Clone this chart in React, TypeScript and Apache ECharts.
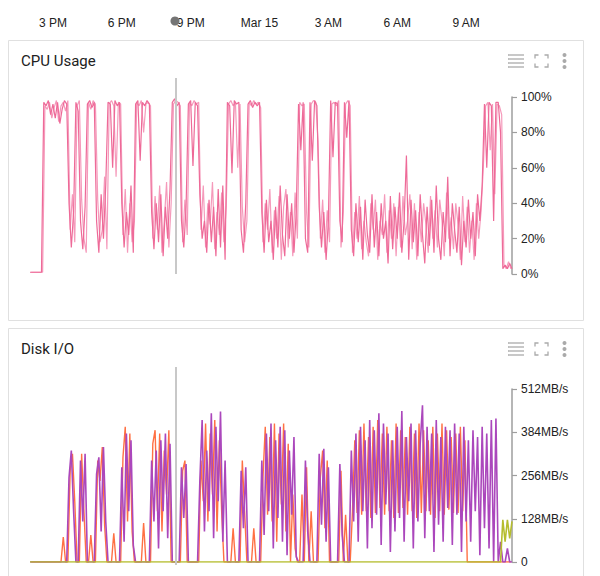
import { useEffect, useRef } from "react";
import * as echarts from "echarts";

// Time axis runs in hours since midnight, Mar 14 (14 = 2 PM, 35 = 11 AM next day)
const HOUR_START = 14;
const HOUR_END = 35;
const STEP = 0.1;
const CURSOR_HOUR = 20.36;

const timeTickHours = [15, 18, 21, 24, 27, 30, 33];
const timeTickLabels = ["3 PM", "6 PM", "9 PM", "Mar 15", "3 AM", "6 AM", "9 AM"];

// CPU utilisation (%), one sample every 0.1 h starting at 14.0
const cpuA = [
  1, 1, 1, 1, 1, 1,
  97, 95, 98, 90, 96, 88, 97, 85, 93, 98, 96,
  40, 15, 35,
  97, 92,
  30, 14, 38,
  96, 98, 94, 97,
  30, 12, 45, 20, 50,
  97, 96, 60, 98, 95, 97,
  40, 15, 35, 22, 50, 12,
  96, 98, 64, 97, 95, 98, 96,
  35, 14, 40, 18, 45, 10, 38, 20, 48,
  97, 99, 95, 97,
  30, 15, 38,
  96, 98, 61, 97, 95,
  45, 20, 30, 12, 42, 18, 38, 10, 48, 15, 50, 8,
  97, 95, 57, 98, 96, 97,
  25, 12, 40,
  96, 98, 94, 97, 95, 97,
  35, 12, 42, 18, 30, 8, 38, 15, 50, 22, 10, 45, 20, 40, 12, 35,
  96, 70, 97,
  20, 12,
  97, 64, 98, 95,
  38, 15, 35, 8, 30,
  98, 66, 97, 96,
  30, 18,
  97, 77, 98,
  25, 10, 40, 18, 38, 8, 42, 22, 12, 45,
  15, 35, 10, 40, 20, 30, 6, 44, 14, 38,
  20, 46, 12, 30, 67, 8, 42, 18, 36, 10,
  45, 22, 6, 38, 16, 42, 12, 50, 20, 8,
  35, 18, 55, 10, 40, 25, 12, 38, 5, 30,
  15, 42, 20, 35, 10, 45, 30, 50,
  96, 60, 97, 95, 30, 97, 97, 80,
  3, 5, 3, 6, 3,
];

// Second instance, sampled half a step later (starts at 14.05)
const cpuB = [
  1, 1, 1, 1, 1, 1,
  95, 93, 97, 88, 94, 98, 86, 95, 97, 92, 98,
  25, 45, 18,
  95, 98,
  42, 20, 12,
  97, 93, 98, 96,
  42, 18, 25, 55, 14,
  96, 98, 95, 55, 97, 96,
  22, 48, 12, 40, 18, 30,
  97, 95, 98, 80, 96, 97, 95,
  20, 44, 25, 50, 12, 30, 52, 15, 40,
  96, 98, 97, 95,
  18, 42, 22,
  97, 95, 98, 96, 97,
  25, 50, 15, 40, 28, 52, 14, 35, 22, 46, 18, 38,
  96, 98, 95, 97, 60, 96,
  38, 18, 30,
  97, 95, 98, 96, 97, 94,
  18, 40, 25, 48, 12, 36, 20, 44, 8, 38, 48, 15, 35, 10, 46, 20,
  97, 95, 96,
  35, 15,
  96, 98, 97, 75,
  20, 42, 12, 36, 18,
  96, 97, 95, 98,
  15, 35,
  96, 98, 95,
  12, 35, 20, 44, 14, 30, 18, 10, 40, 25,
  42, 8, 30, 22, 45, 12, 36, 20, 40, 10,
  38, 15, 44, 22, 30, 45, 14, 40, 8, 35,
  18, 40, 28, 12, 44, 20, 36, 15, 42, 30,
  10, 46, 20, 32, 14, 40, 28, 8, 44, 18,
  38, 12, 30, 8, 40, 20, 35, 60,
  95, 97, 70, 96, 45, 96, 95, 90,
  5, 3, 7, 3,
];

// Disk throughput (MB/s), read side, starts at 14.0
const diskPurple = [
  0, 0, 0, 0, 0, 0, 0, 0, 0, 0, 0, 0, 0, 0, 0, 0, 0,
  250, 330, 150,
  0, 0,
  300, 120, 320,
  0, 0, 0, 0,
  260, 310, 90, 340, 120,
  0, 0, 0, 0, 0, 0,
  280, 60, 380, 150, 360, 50,
  0, 0, 0, 0, 0, 0, 0,
  300, 120, 330, 40, 360, 150, 380, 70, 350,
  0, 0, 0, 0,
  280, 130, 290,
  0, 0, 0, 0, 0,
  240, 420, 90, 330, 150, 440, 70, 400, 180, 445, 60, 300,
  0, 0, 0, 0, 0, 0,
  270, 100, 280,
  0, 0, 0, 0, 0, 0,
  300, 80, 380, 150, 410, 40, 360, 130, 400, 60, 390, 20, 330, 140, 370, 15,
  0, 0, 0,
  300, 90,
  0, 0, 0, 0,
  320, 110, 335, 60, 280,
  0, 0, 0, 0,
  290, 80,
  0, 0, 0,
  330, 120, 380, 60, 400, 150, 360, 40, 420, 100,
  390, 140, 440, 50, 410, 170, 380, 30, 360, 90,
  400, 130, 447, 60, 370, 180, 410, 40, 390, 120,
  350, 464, 70, 400, 150, 380, 30, 420, 110, 370,
  60, 400, 160, 390, 50, 410, 140, 380, 30, 400,
  120, 360, 60, 390, 150, 370, 20, 400, 100, 380,
  40, 420, 0, 425, 0, 60, 0, 0, 40, 0, 0,
];

// Disk throughput (MB/s), write side, starts at 14.05
const diskOrange = [
  0, 0, 0, 0, 0, 0, 0, 0, 0, 0, 0, 0, 0, 0,
  74,
  0, 0,
  270, 320, 180,
  0, 0,
  320, 150, 0,
  0,
  80,
  0, 0,
  300, 240, 340, 110, 0,
  0, 0,
  85,
  0, 0, 0,
  310, 400, 120, 380, 90, 0,
  0, 0, 0,
  115,
  0, 0, 0,
  350, 390, 150, 380, 90, 330, 200, 390, 0,
  0, 0, 0, 0,
  270, 300, 0,
  0, 0, 0, 0, 0,
  300, 180, 410, 120, 380, 200, 420, 90, 360, 150, 0,
  0, 0, 0,
  100,
  0, 0, 0,
  300, 150, 0,
  0, 0,
  100,
  0, 0, 0,
  250, 400, 140, 370, 120, 410, 60, 380, 170, 410, 90, 350, 0, 200, 40, 0,
  0, 200, 0, 280, 0, 150, 0, 0, 0,
  250, 330, 100, 300, 0,
  0, 0, 0, 0,
  270, 0,
  140,
  0, 0,
  150, 360, 145, 390, 140, 410, 150, 370, 130, 400,
  145, 420, 160, 380, 140, 400, 150, 360, 130, 410,
  145, 390, 160, 370, 140, 400, 150, 380, 130, 410,
  145, 390, 150, 360, 140, 400, 130, 380, 150, 410,
  140, 390, 155, 370, 145, 380, 145, 400, 150, 360,
  0, 0, 0, 0, 0, 0, 0, 0, 0, 0,
  0, 0, 0, 0, 0, 0, 0, 0, 0, 0,
];

// Third disk, idle until the very end
const diskOliveHours = [14, 34.5, 34.6, 34.7, 34.8, 34.9, 35];
const diskOliveValues = [0, 0, 125, 60, 125, 70, 120];

const toPairs = (values: number[], offset: number) =>
  values.map((v, i) => [HOUR_START + offset + i * STEP, v]);

const LABEL_FONT = "'Liberation Sans', Arial, sans-serif";
const TITLE_FONT = "Roboto, 'Noto Sans', sans-serif";

function panelChrome(top: number, title: string) {
  const iconColor = "#aaaaaa";
  const dy = top - 40;
  const els: any[] = [
    {
      type: "rect",
      z: -10,
      shape: { x: 8.5, y: top + 0.5, width: 575, height: 280 },
      style: { fill: "#ffffff", stroke: "#e0e0e0", lineWidth: 1 },
    },
    {
      type: "text",
      x: 21,
      y: 61 + dy,
      style: {
        text: title,
        fontSize: 15,
        fontFamily: TITLE_FONT,
        fill: "#212121",
        verticalAlign: "middle",
      },
    },
  ];
  // list icon
  [55, 59, 63, 67].forEach((y) =>
    els.push({
      type: "line",
      shape: { x1: 508, y1: y + dy, x2: 524, y2: y + dy },
      style: { stroke: iconColor, lineWidth: 1.3 },
    })
  );
  // fullscreen icon corners
  const fx1 = 535, fx2 = 548, fy1 = 55 + dy, fy2 = 67 + dy, c = 3.5;
  [
    [[fx1, fy1 + c], [fx1, fy1], [fx1 + c, fy1]],
    [[fx2 - c, fy1], [fx2, fy1], [fx2, fy1 + c]],
    [[fx1, fy2 - c], [fx1, fy2], [fx1 + c, fy2]],
    [[fx2 - c, fy2], [fx2, fy2], [fx2, fy2 - c]],
  ].forEach((pts) =>
    els.push({
      type: "polyline",
      shape: { points: pts },
      style: { stroke: iconColor, lineWidth: 1.3, fill: "none" },
    })
  );
  // overflow menu dots
  [55, 61, 67].forEach((y) =>
    els.push({
      type: "circle",
      shape: { cx: 564.5, cy: y + dy, r: 2 },
      style: { fill: iconColor },
    })
  );
  return els;
}

export default function App() {
  const ref = useRef<HTMLDivElement>(null);

  useEffect(() => {
    if (!ref.current) return;
    const chart = echarts.init(ref.current, null, { renderer: "svg" });

    const yAxisCommon = {
      position: "right" as const,
      axisLine: { show: true, lineStyle: { color: "#9e9e9e", width: 1.5 } },
      axisTick: { show: true, length: 5, lineStyle: { color: "#9e9e9e", width: 1.2 } },
      splitLine: { show: false },
      axisLabel: { color: "#222", fontSize: 12, margin: 9, fontFamily: LABEL_FONT },
    };
    const hiddenX = {
      type: "value" as const,
      min: HOUR_START,
      max: HOUR_END,
      show: false,
    };

    chart.setOption({
      animation: false,
      backgroundColor: "#ffffff",
      grid: [
        { left: 30, width: 482, top: 97, height: 177 },
        { left: 30, width: 482, top: 389, height: 173 },
      ],
      xAxis: [
        { ...hiddenX, gridIndex: 0 },
        {
          type: "value",
          gridIndex: 0,
          position: "top",
          offset: 58,
          min: HOUR_START,
          max: HOUR_END,
          interval: 1,
          axisLine: { show: false },
          axisTick: { show: false },
          splitLine: { show: false },
          axisLabel: {
            interval: 0,
            margin: 10,
            color: "#222",
            fontSize: 12,
            fontFamily: LABEL_FONT,
            formatter: (v: number) => {
              const k = timeTickHours.indexOf(Math.round(v));
              return k >= 0 && Math.abs(v - Math.round(v)) < 1e-6 ? timeTickLabels[k] : "";
            },
          },
        },
        { ...hiddenX, gridIndex: 1 },
      ],
      yAxis: [
        {
          ...yAxisCommon,
          type: "value",
          gridIndex: 0,
          min: 0,
          max: 100,
          interval: 20,
          axisLabel: { ...yAxisCommon.axisLabel, formatter: "{value}%" },
        },
        {
          ...yAxisCommon,
          type: "value",
          gridIndex: 1,
          min: 0,
          max: 512,
          interval: 128,
          axisLabel: {
            ...yAxisCommon.axisLabel,
            formatter: (v: number) => (v === 0 ? "0" : `${v}MB/s`),
          },
        },
      ],
      series: [
        {
          type: "line",
          xAxisIndex: 0,
          yAxisIndex: 0,
          data: toPairs(cpuB, STEP / 2),
          symbol: "none",
          lineStyle: { color: "#f59abb", width: 1.2 },
        },
        {
          type: "line",
          xAxisIndex: 0,
          yAxisIndex: 0,
          data: toPairs(cpuA, 0),
          symbol: "none",
          lineStyle: { color: "#ee6a98", width: 1.2 },
        },
        {
          type: "line",
          xAxisIndex: 2,
          yAxisIndex: 1,
          data: toPairs(diskOrange, STEP / 2),
          symbol: "none",
          lineStyle: { color: "#ff7043", width: 1.4 },
        },
        {
          type: "line",
          xAxisIndex: 2,
          yAxisIndex: 1,
          data: toPairs(diskPurple, 0),
          symbol: "none",
          lineStyle: { color: "#ab47bc", width: 1.6 },
        },
        {
          type: "line",
          xAxisIndex: 2,
          yAxisIndex: 1,
          data: diskOliveHours.map((h, i) => [h, diskOliveValues[i]]),
          symbol: "none",
          lineStyle: { color: "#b5bd2e", width: 1.6 },
        },
      ],
    });

    const cx = chart.convertToPixel({ xAxisIndex: 0 }, CURSOR_HOUR) as number;
    const graphics: any[] = [
      ...panelChrome(40, "CPU Usage"),
      ...panelChrome(328, "Disk I/O"),
      {
        type: "line",
        z: 50,
        shape: { x1: cx, y1: 78, x2: cx, y2: 274 },
        style: { stroke: "#c8c8c8", lineWidth: 2 },
      },
      {
        type: "line",
        z: 50,
        shape: { x1: cx, y1: 367, x2: cx, y2: 565 },
        style: { stroke: "#c8c8c8", lineWidth: 2 },
      },
      {
        type: "circle",
        z: 50,
        shape: { cx: cx - 1, cy: 21, r: 4.5 },
        style: { fill: "#757575" },
      },
    ];
    chart.setOption({ graphic: graphics });

    return () => chart.dispose();
  }, []);

  return (
    <div
      ref={ref}
      style={{ position: "fixed", left: 0, top: 0, width: 600, height: 576 }}
    />
  );
}
